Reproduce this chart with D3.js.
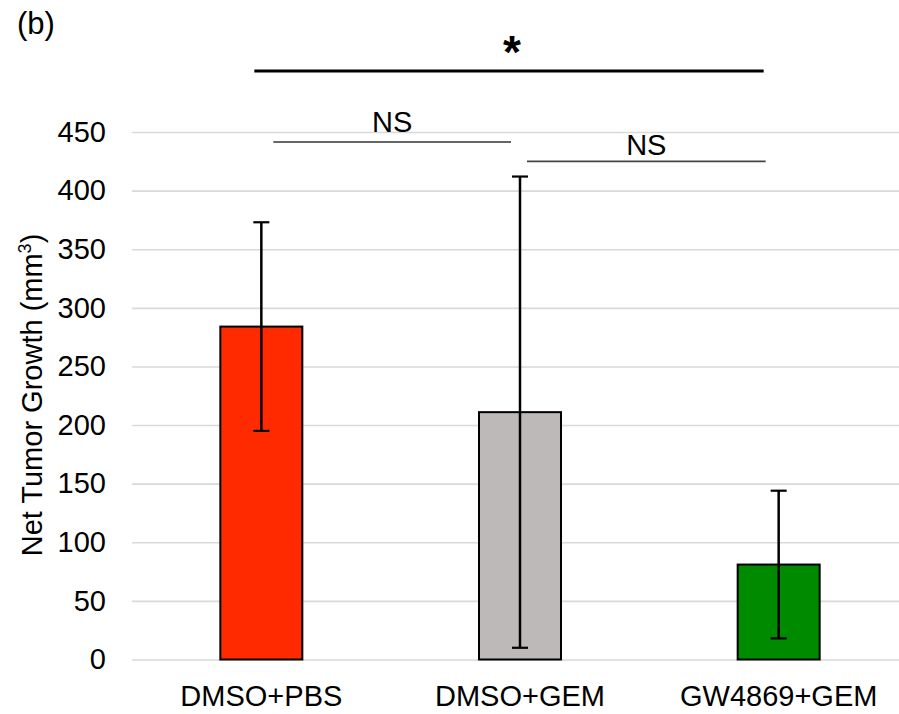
<!DOCTYPE html>
<html>
<head>
<meta charset="utf-8">
<script src="https://cdn.jsdelivr.net/npm/d3@7"></script>
<style>
  html, body { margin: 0; padding: 0; background: #fff; }
  svg { display: block; font-family: "Liberation Sans", Arial, sans-serif; }
</style>
</head>
<body>
<svg id="chart" width="899" height="714"></svg>
<script>
// Groups, mean net growth and error (SD)
const groups = ["DMSO+PBS", "DMSO+GEM", "GW4869+GEM"];
const means = [284, 211, 81];
const errors = [89, 201, 63];
const fills = ["#ff2a00", "#bdb9b8", "#008a00"];
const yTicks = [0, 50, 100, 150, 200, 250, 300, 350, 400, 450];

// Significance brackets: from group, to group, label
const sigFrom = [0, 0, 1];
const sigTo = [2, 1, 2];
const sigLabels = ["*", "NS", "NS"];

const svg = d3.select("#chart");
const W = 899, H = 714;
const FS = 29;

const x = d3.scaleBand()
  .domain(groups)
  .range([132, 908])
  .paddingInner(0.683)
  .paddingOuter(0.3415);

const y = d3.scaleLinear().domain([0, 450]).range([659.5, 132]);

// gridlines
const grid = svg.append("g")
  .attr("transform", "translate(132,0)")
  .call(d3.axisLeft(y).tickValues(yTicks).tickSize(-(W - 132)).tickFormat(""));
grid.select(".domain").remove();
grid.selectAll(".tick line").attr("stroke", "#d9d9d9").attr("stroke-width", 1.6);

// y tick labels
const yAxis = svg.append("g")
  .attr("transform", "translate(106,0)")
  .call(d3.axisLeft(y).tickValues(yTicks).tickSize(0).tickPadding(0));
yAxis.select(".domain").remove();
yAxis.selectAll("text")
  .attr("font-size", FS)
  .attr("font-family", "Liberation Sans, Arial, sans-serif")
  .attr("fill", "#000");

// bars
svg.append("g").selectAll("rect")
  .data(groups)
  .join("rect")
  .attr("x", d => x(d))
  .attr("y", (d, i) => y(means[i]))
  .attr("width", x.bandwidth())
  .attr("height", (d, i) => y(0) - y(means[i]))
  .attr("fill", (d, i) => fills[i])
  .attr("stroke", "#000")
  .attr("stroke-width", 2);

// error bars
const eb = svg.append("g").attr("stroke", "#000").attr("stroke-width", 2.5);
groups.forEach((g, i) => {
  const cx = x(g) + x.bandwidth() / 2;
  const hi = y(means[i] + errors[i]);
  const lo = y(means[i] - errors[i]);
  eb.append("line").attr("x1", cx).attr("x2", cx).attr("y1", hi).attr("y2", lo);
  eb.append("line").attr("x1", cx - 8).attr("x2", cx + 8).attr("y1", hi).attr("y2", hi).attr("stroke-width", 2.2);
  eb.append("line").attr("x1", cx - 8).attr("x2", cx + 8).attr("y1", lo).attr("y2", lo).attr("stroke-width", 2.2);
});

// x category labels
const xAxis = svg.append("g")
  .attr("transform", `translate(0,${y(0)})`)
  .call(d3.axisBottom(x).tickSize(0).tickPadding(0));
xAxis.select(".domain").remove();
xAxis.selectAll("text")
  .attr("font-size", FS)
  .attr("font-family", "Liberation Sans, Arial, sans-serif")
  .attr("fill", "#000")
  .attr("dy", null)
  .attr("y", 46);

// significance brackets
const c = i => x(groups[i]) + x.bandwidth() / 2;
const sigLevel = [502, 441.5, 425];
const sigX1 = [c(sigFrom[0]) - 7, c(sigFrom[1]) + 12, c(sigFrom[2]) + 7];
const sigX2 = [c(sigTo[0]) - 15, c(sigTo[1]) - 9, c(sigTo[2]) - 13];
const sigWidth = [3, 1.5, 1.8];
const sigColor = ["#000", "#333", "#444"];
const sigTextSize = [46, FS, FS];
const sigTextGap = [3, 10, 6];
sigLabels.forEach((lab, i) => {
  const ly = y(sigLevel[i]);
  svg.append("line")
    .attr("x1", sigX1[i]).attr("x2", sigX2[i])
    .attr("y1", ly).attr("y2", ly)
    .attr("stroke", sigColor[i]).attr("stroke-width", sigWidth[i]);
  svg.append("text")
    .attr("x", (sigX1[i] + sigX2[i]) / 2 + (i === 0 ? 3 : 0))
    .attr("y", ly - sigTextGap[i])
    .attr("text-anchor", "middle")
    .attr("font-size", sigTextSize[i])
    .attr("font-weight", i === 0 ? "bold" : "normal")
    .text(lab);
});

// y axis title
const title = svg.append("text")
  .attr("transform", "translate(42,395) rotate(-90)")
  .attr("text-anchor", "middle")
  .attr("font-size", FS);
title.append("tspan").text("Net Tumor Growth (mm");
title.append("tspan").attr("font-size", 18).attr("dy", -11).text("3");
title.append("tspan").attr("dy", 11).text(")");

// panel label
svg.append("text")
  .attr("x", 17).attr("y", 34)
  .attr("font-size", 31)
  .text("(b)");
</script>
</body>
</html>
